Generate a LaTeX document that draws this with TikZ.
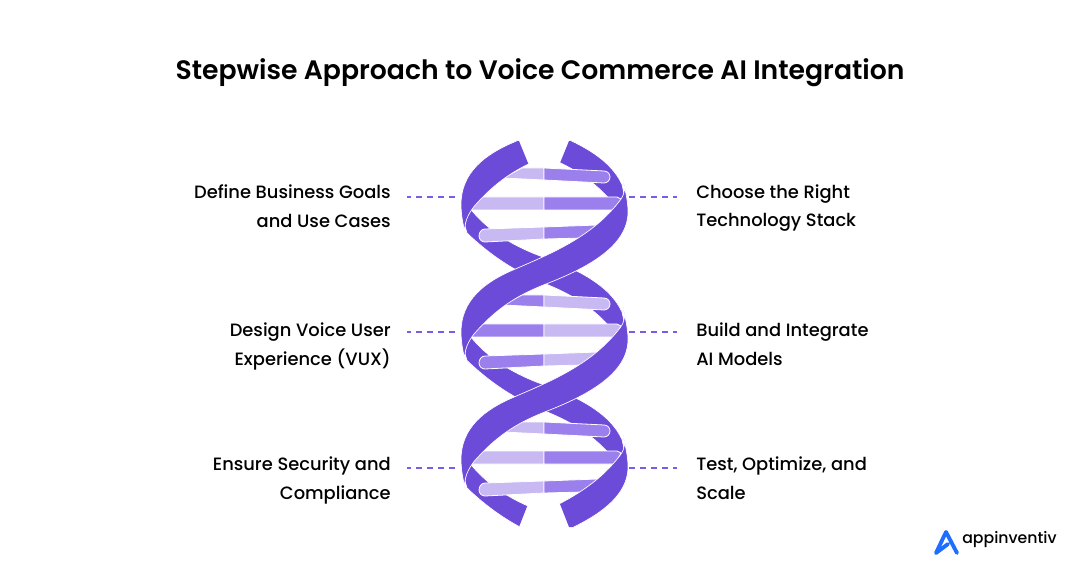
\documentclass[tikz,border=0pt]{standalone}
\usepackage{fontspec}
\setmainfont{Poppins}[UprightFont=* Medium,BoldFont=* SemiBold]
\definecolor{dark}{HTML}{6D4BD9}
\definecolor{midp}{HTML}{9B7FEC}
\definecolor{lightp}{HTML}{C8B9F2}
\definecolor{dashc}{HTML}{7B5CE6}
\definecolor{logoblue}{HTML}{1E6FFF}
\newcommand{\frontshape}{(623,180) .. controls (626,190) and (624,196) .. (618,203) .. controls (590,238) and (550,254) .. (513,270) .. controls (485,282) and (461,300) .. (461,332) .. controls (461,342) and (463,352) .. (465,360) .. controls (464,350) and (468,342) .. (474,334) .. controls (495,310) and (515,296) .. (546,284) .. controls (590,267) and (628,245) .. (628,212) .. controls (628,200) and (625,190) .. (623,180) -- cycle}
\newcommand{\backshape}{(465,202) -- (473,212) .. controls (490,232) and (515,247) .. (543,257) .. controls (575,268) and (610,285) .. (622,312) -- (627,335) -- (612,340) -- (610,327) .. controls (590,305) and (570,294) .. (546,284) .. controls (515,272) and (490,255) .. (467,233) -- (465,226) -- cycle}
\newcommand{\barset}[2]{%
  \path[barp,fill=#1] (503,178) -- (522,168) -- (544,168) -- (544,180) -- cycle;
  \path[barp,fill=#2] (544,168) -- (604,171) to[out=0,in=90] (610,177) to[out=-90,in=0] (604,183) -- (544,180) -- cycle;
  \path[barp,fill=#1] (470,210) -- (482,197) -- (544,197) -- (544,210) -- cycle;
  \path[barp,fill=#2] (544,197) -- (617,197) -- (621,199) -- (615,210) -- (544,210) -- cycle;
  \path[barp,fill=#1] (485,229) -- (544,227) -- (544,239) -- (485,242) to[out=180,in=-90] (479,236) to[out=90,in=180] (485,229) -- cycle;
  \path[barp,fill=#2] (544,227) -- (598,225) -- (583,238) -- (544,239) -- cycle;
}
\tikzset{
  strand/.style={fill=dark,draw=white,line width=.5pt,line join=round},
  barp/.style={draw=white,line width=.6pt,line join=round},
  lbl/.style={font=\fontsize{13.4pt}{21.6pt}\selectfont,inner ysep=0pt,inner xsep=12pt,text=black},
  lblr/.style={lbl,inner xsep=14.25pt},
  dashln/.style={draw=dashc,line width=1.1pt,dash pattern=on 4.5pt off 3.75pt},
}
\begin{document}
\begin{tikzpicture}[x=.75pt,y=-.75pt]
\useasboundingbox (0,0) rectangle (1080,580);
\node[inner sep=0pt,font=\fontsize{20pt}{24pt}\selectfont\bfseries] (title) at (540,73) {Stepwise Approach to Voice Commerce AI Integration};

% back strands
\begin{scope}
  \clip (569,141) -- (560,163) -- (600,230) -- (660,230) -- (660,141) -- cycle;
  \begin{scope}[yshift=95.625pt]\path[strand] \backshape;\end{scope}
\end{scope}
\path[strand] \backshape;
\begin{scope}[yshift=-95.625pt]\path[strand] \backshape;\end{scope}
\begin{scope}
  \clip (519,527) -- (528,504) -- (500,400) -- (440,400) -- (440,527) -- cycle;
  \begin{scope}[yshift=-191.25pt]\path[strand] \backshape;\end{scope}
\end{scope}

% rungs
\barset{lightp}{midp}
\begin{scope}[yshift=-95.25pt]\barset{midp}{lightp}\end{scope}
\begin{scope}[yshift=-190.5pt]\barset{lightp}{midp}\end{scope}

% front strands
\begin{scope}
  \clip (519,141) -- (528,163) -- (560,240) -- (440,240) -- (440,141) -- cycle;
  \begin{scope}[yshift=95.625pt]\path[strand] \frontshape;\end{scope}
\end{scope}
\path[strand] \frontshape;
\begin{scope}[yshift=-95.625pt]\path[strand] \frontshape;\end{scope}
\begin{scope}
  \clip (569,527) -- (560,504) -- (530,420) -- (650,420) -- (650,527) -- cycle;
  \begin{scope}[yshift=-191.25pt]\path[strand] \frontshape;\end{scope}
\end{scope}

% labels
\node[lbl,align=right,anchor=east] (l1) at (407,206) {Define Business Goals\\and Use Cases};
\node[lbl,align=right,anchor=east] (l2) at (407,346.3) {Design Voice User\\Experience (VUX)};
\node[lbl,align=right,anchor=east] (l3) at (407,480.3) {Ensure Security and\\Compliance};
\node[lblr,align=left,anchor=west] (r1) at (677,208) {Choose the Right\\Technology Stack};
\node[lblr,align=left,anchor=west] (r2) at (677,344.3) {Build and Integrate\\AI Models};
\node[lblr,align=left,anchor=west] (r3) at (677,478.3) {Test, Optimize, and\\Scale};

\coordinate (hl1) at (455,197);
\coordinate (hl2) at (455,332);
\coordinate (hl3) at (455,468);
\coordinate (hr1) at (629,197);
\coordinate (hr2) at (629,332);
\coordinate (hr3) at (629,468);
\draw[dashln] (hl1) -- (l1.east |- hl1);
\draw[dashln] (hl2) -- (l2.east |- hl2);
\draw[dashln] (hl3) -- (l3.east |- hl3);
\draw[dashln] (hr1) -- (r1.west |- hr1);
\draw[dashln] (hr2) -- (r2.west |- hr2);
\draw[dashln] (hr3) -- (r3.west |- hr3);

% logo
\draw[logoblue,line width=2.9pt,line join=round,line cap=round] (948,544) -- (936,553) -- (946,532) -- (957,553);
\node[inner sep=0pt,anchor=west,font=\fontsize{11.8pt}{14pt}\selectfont] (logo) at (962,540) {appinventiv};
\end{tikzpicture}
\end{document}
